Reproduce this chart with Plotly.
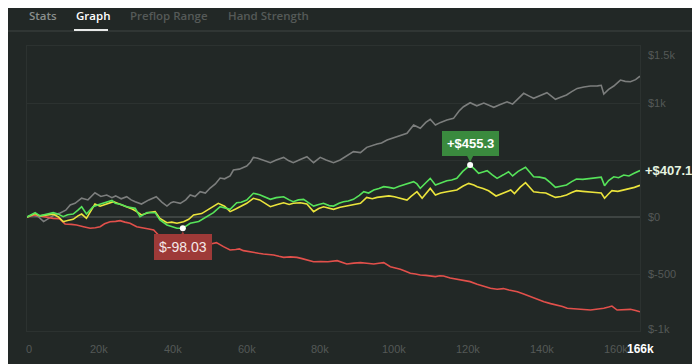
import plotly.graph_objects as go

# ---------------- data (hands in thousands, dollars) ----------------
gray_k = [0,1.5,3,4.5,6,7.5,9,10.5,11.7,13,14.8,16.5,18.4,20,21.6,23,24,25.5,27,28.2,29.3,31,33,35,36.5,37.9,39,39.7,41.5,43,44.2,45.5,46.9,48.3,49.6,51,52.3,53.5,55,55.9,57.5,59.5,60.5,61.3,62.5,64,65.9,67.5,69.5,70.8,72.1,74,75.8,77.6,79.4,81,83,84.8,86.6,88.4,90.3,92,94.8,96,97.5,99,100.2,101.5,102.9,104.7,106.5,108,109.2,110.6,112,113.7,115.5,117,118.2,120,121.8,123.7,125,126.4,128,130,131.5,133,134.5,136,137.2,139,140.8,142,143.1,144.5,146.1,147.5,149,150.8,152.6,154.5,155.5,156.2,157.5,158.9,160.7,162,163.4,164.8,166]
gray_v = [0,15,5,-40,-10,20,35,60,105,120,165,150,213,180,193,170,185,160,178,150,134,114,150,178,130,96,125,134,120,150,193,180,222,210,254,290,342,335,360,412,420,447,480,523,515,500,476,500,523,495,476,505,529,476,523,500,476,500,535,573,565,611,640,650,675,690,704,715,734,807,778,830,857,807,830,850,865,930,967,1002,975,1000,985,962,985,1011,990,1040,1085,1060,1041,1065,1090,1060,1032,1050,1070,1100,1128,1140,1149,1150,1155,1079,1120,1149,1201,1190,1187,1205,1235]

green_k = [0,1,2.2,3.5,5,7.1,8.5,9.8,11,12.5,13.8,14.8,16.1,17.9,19.5,21.6,23,23.9,25.5,27,29.3,30.6,32.5,34.7,36,37.9,39.5,40.6,42.2,44.2,46.5,48.7,50.5,52.3,53.5,55,56.8,58,59.5,61.3,63,64.5,65.9,67.5,69.5,71,72.1,73.5,74.9,76.5,77.6,79,80.3,81.8,83,84.5,85.7,87,88.4,90,91.2,92.5,93.9,95.3,96.6,98,99.3,100.8,102,103.5,104.7,105.6,106.5,108,109.2,110.6,112,113.7,115,116.4,118,120,121.2,122.3,123.5,124.6,126,127.3,129,130.4,131.5,133,135,136,137.2,138.8,140.3,141.8,143.1,144.5,146.1,147.5,148.8,150.5,152.4,154,155.5,156.4,157.5,158.9,160.2,161.6,163,164.4,166]
green_v = [0,20,38,10,20,38,25,3,20,26,60,90,26,90,110,134,145,120,110,90,76,3,40,38,-26,-70,-85,-99,-98.03,-55,-40,3,38,90,80,67,125,130,149,208,195,175,155,170,178,150,134,150,155,120,96,110,120,100,96,120,134,140,155,190,222,210,237,250,266,260,251,270,281,295,310,290,251,300,339,281,300,318,325,339,400,455.3,420,383,395,406,370,339,370,397,360,400,436,400,353,350,339,300,260,270,281,310,333,330,339,345,350,275,320,353,345,368,360,383,407.1]

yellow_k = [0,1,2.2,3.5,5,7.1,8.5,9.8,11,12.5,13.8,14.8,16.1,17.2,18.4,19.8,21.2,23.4,25,27,28.5,29.7,31,33,34.7,36,37.9,39.2,40.6,42.4,43.8,45.1,47.3,49.6,51.8,53.5,55,56.5,57.7,59.5,61.3,63,64.5,65.9,67.8,69.5,71,72.1,74,75.8,77.6,79,80.3,81.8,83,84.8,86.6,88.5,90.3,92,93.5,94.8,96.6,98,99.5,101.2,102.9,104,105.6,107,108,109.2,110.6,112,113.7,115,116.4,118,119.6,121,121.9,123.5,125,127,129,131,132,133.5,135,136.2,137.2,138.8,140.5,141.8,143.1,144.6,146.1,147.5,148.8,150.5,152.4,154,155.5,156.4,157.4,158.4,160,161.6,163,164.5,166]
yellow_v = [0,15,30,10,15,25,0,-41,-30,-20,10,26,-12,50,114,95,110,134,115,90,70,47,18,40,47,-12,-50,-45,-55,-41,-20,18,30,76,120,95,47,70,90,120,164,150,120,90,110,125,110,120,125,114,47,75,90,80,67,85,96,105,120,172,160,172,178,185,178,165,149,180,222,164,200,251,193,210,222,230,237,270,295,280,266,250,230,184,210,237,205,260,301,260,222,215,210,190,172,180,193,215,231,225,222,215,210,164,200,231,225,237,245,260,278]

red_k = [0,1,2.2,3.5,5,7.1,8.8,10.3,12,13.4,15.3,17.1,18.5,19.8,21,22.5,24,25.2,26.5,27.9,29.7,31.5,33,34.3,35.6,37.2,38.8,40.2,41.5,43.3,45.1,47,48.7,50,51.3,53.2,55,56.5,57.5,58.6,60,61.3,62.7,64,65.4,66.8,68.2,69.5,71.3,73.1,74.5,75.8,77.6,79.5,81.5,84,85.3,86.6,88.5,90.3,92,93.9,95.3,96.6,98.4,99.8,101.1,102.5,103.8,105.2,106.5,108,109.2,110.6,111.8,112.8,114.6,116.4,118.2,120,121.9,123.7,125.5,127.3,129,130.5,132.8,134.5,136.4,138.2,140,141.8,143.6,145,146.3,147.7,149,150.8,152.6,154.5,156.2,157.5,158.4,159.8,161.6,163.4,164.8,166]
red_v = [0,10,18,10,0,-12,-15,-61,-65,-70,-85,-99,-95,-85,-60,-41,-38,-32,-45,-55,-85,-99,-105,-114,-158,-165,-172,-180,-187,-200,-216,-230,-246,-235,-225,-260,-289,-285,-280,-295,-305,-313,-318,-324,-328,-333,-345,-354,-350,-354,-365,-377,-392,-390,-392,-383,-395,-412,-405,-400,-406,-412,-405,-400,-436,-445,-459,-475,-494,-500,-509,-512,-517,-523,-515,-517,-535,-547,-555,-567,-590,-611,-625,-634,-628,-640,-655,-675,-699,-720,-743,-760,-772,-785,-801,-806,-810,-812,-816,-810,-801,-790,-781,-816,-812,-810,-820,-831]

x_ticks = [0, 20000, 40000, 60000, 80000, 100000, 120000, 140000, 160000]
x_tick_text = ["0", "20k", "40k", "60k", "80k", "100k", "120k", "140k", "160k"]
y_grid = [-1000, -500, 0, 500, 1000, 1500]
y_label_vals = [1500, 1000, 0, -500, -1000]
y_label_text = ["$1.5k", "$1k", "$0", "$-500", "$-1k"]
total_hands = 166000
total_hands_text = "166k"
final_value = 407.1
final_value_text = "+$407.1"
max_point = (120000, 455.3)
min_point = (42200, -98.03)
tabs = ["Stats", "Graph", "Preflop Range", "Hand Strength"]

# ---------------- layout geometry ----------------
# The page body has an 8px default margin, so the figure is drawn 8px smaller
# and every reference pixel position is shifted by that offset.
OFF = 8
W, H = 700 - OFF, 364 - OFF
L, R, T, B = 27 - OFF, 60, 46 - OFF, 33
PW, PH = W - L - R, H - T - B
def pxx(p):  # reference pixel x -> paper x
    return (p - OFF - L) / PW
def pxy(p):  # reference pixel y -> paper y
    return (H + OFF - B - p) / PH

BG = "#222826"
GRID = "#2c3230"
LABEL = "#545957"

fig = go.Figure()
series = [
    (gray_k, gray_v, "#7c7e7d"),
    (red_k, red_v, "#e2504b"),
    (yellow_k, yellow_v, "#ebe43c"),
    (green_k, green_v, "#56e35a"),
]
for ks, vs, col in series:
    fig.add_trace(go.Scatter(x=[k * 1000 for k in ks], y=vs, mode="lines",
                             line=dict(color=col, width=1.6), hoverinfo="skip",
                             showlegend=False))

fig.add_trace(go.Scatter(x=[max_point[0], min_point[0]], y=[max_point[1], min_point[1]],
                         mode="markers", marker=dict(color="white", size=6),
                         hoverinfo="skip", showlegend=False))

fig.update_layout(
    width=W, height=H, margin=dict(l=L, r=R, t=T, b=B, autoexpand=False),
    paper_bgcolor=BG, plot_bgcolor=BG,
    xaxis=dict(range=[0, total_hands], showticklabels=False,
               showgrid=False, zeroline=False, showline=True, mirror=True,
               linecolor=GRID, linewidth=1, ticks="", automargin=False),
    yaxis=dict(range=[-1000, 1500], tickvals=y_grid, showticklabels=False,
               showgrid=True, gridcolor=GRID, gridwidth=1,
               zeroline=True, zerolinecolor="#3e4442", zerolinewidth=1.5,
               showline=True, mirror=True, linecolor=GRID, ticks="", automargin=False),
    font=dict(family="Liberation Sans, Arial"),
)

ann = []
# x labels (placed at data x positions)
for v, t in zip(x_ticks, x_tick_text):
    ann.append(dict(x=v, xref="x", y=pxy(349), yref="paper", text=t, showarrow=False,
                    xanchor="center", yanchor="middle", xshift=(2 if v == 0 else -2),
                    font=dict(size=11, color=LABEL)))
# y labels
for v, t in zip(y_label_vals, y_label_text):
    shift = 0
    if v == 1500:
        shift = -9
    elif v == -1000:
        shift = 2
    ann.append(dict(x=1, xref="paper", y=v, yref="y", text=t, showarrow=False,
                    xanchor="left", xshift=6, yshift=shift,
                    font=dict(size=11, color=LABEL)))
# final value label
ann.append(dict(x=1, xref="paper", y=final_value, yref="y", text="<b>" + final_value_text + "</b>",
                showarrow=False, xanchor="left", xshift=3,
                font=dict(size=13, color="#e6f4e0")))
# total hands label
ann.append(dict(x=total_hands, xref="x", y=pxy(349), yref="paper", text="<b>" + total_hands_text + "</b>",
                showarrow=False, xanchor="center", yanchor="middle",
                font=dict(size=12, color="#ffffff")))
# max annotation
ann.append(dict(x=max_point[0], y=max_point[1], xref="x", yref="y",
                text="<b>+$%.1f</b>" % max_point[1], showarrow=True,
                ax=0, ay=-22, arrowhead=2, arrowsize=1.3, arrowwidth=1.5,
                arrowcolor="#3a8a3e", standoff=3,
                bgcolor="#3a8a3e", borderpad=5, bordercolor="#3a8a3e", borderwidth=0,
                font=dict(size=13, color="white")))
# min annotation
ann.append(dict(x=min_point[0], y=min_point[1], xref="x", yref="y",
                text="$%.2f" % min_point[1], showarrow=True,
                ax=0, ay=19, arrowhead=2, arrowsize=1.3, arrowwidth=1.5,
                arrowcolor="#9e3a38", standoff=3,
                bgcolor="#9e3a38", borderpad=5, borderwidth=0,
                font=dict(size=14, color="#f4e8e8")))
# tabs
tab_x = [27, 74, 128, 226]
tab_col = ["#8a8f8d", "#ffffff", "#555a58", "#555a58"]
for t, xp, c in zip(tabs, tab_x, tab_col):
    ann.append(dict(x=pxx(xp), y=pxy(16), xref="paper", yref="paper", text=t,
                    showarrow=False, xanchor="left", yanchor="middle",
                    font=dict(family="Open Sans, Noto Sans", size=11.5, color=c, weight=600)))
fig.update_layout(annotations=ann)

shapes = [
    dict(type="line", xref="paper", yref="paper", x0=pxx(OFF), x1=pxx(700), y0=pxy(31), y1=pxy(31),
         line=dict(color="#3e4442", width=1)),
    dict(type="line", xref="paper", yref="paper", x0=pxx(74), x1=pxx(108), y0=pxy(30), y1=pxy(30),
         line=dict(color="#e8eae9", width=2)),
]
fig.update_layout(shapes=shapes)

fig.write_html("out.html")
